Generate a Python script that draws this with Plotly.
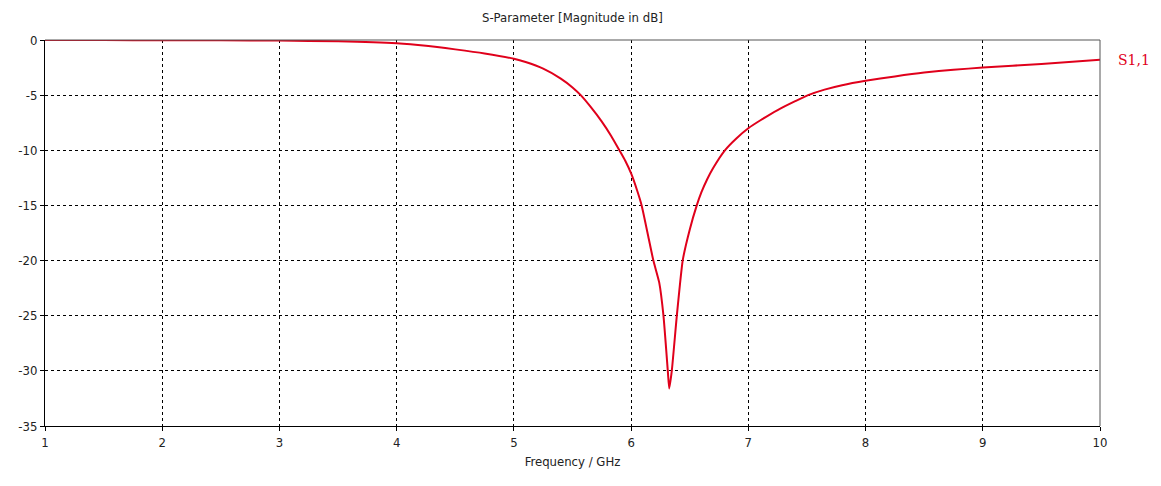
import plotly.graph_objects as go

# S1,1 magnitude of the port reflection, read per frequency point
freq_ghz = [1.0, 1.5, 2.0, 2.5, 3.0, 3.5, 4.0, 4.25, 4.5, 4.75, 5.0, 5.1, 5.25,
            5.4, 5.5, 5.57, 5.65, 5.75, 5.83, 5.9, 5.95, 6.0, 6.05, 6.09, 6.15,
            6.19, 6.24, 6.276, 6.313, 6.325, 6.347, 6.39, 6.44, 6.5, 6.56, 6.6,
            6.65, 6.7, 6.8, 6.9, 7.0, 7.1, 7.25, 7.4, 7.51, 7.65, 7.8, 8.0, 8.25,
            8.5, 8.75, 9.0, 9.5, 10.0]
s11_db = [0.0, -0.01, -0.02, -0.03, -0.05, -0.12, -0.3, -0.52, -0.85, -1.22, -1.7,
          -2.0, -2.6, -3.5, -4.3, -5.0, -6.0, -7.4, -8.7, -10.0, -10.95, -12.1,
          -13.6, -15.0, -18.0, -20.0, -22.0, -25.0, -30.0, -31.6, -30.0, -25.0,
          -20.0, -17.2, -15.0, -13.8, -12.6, -11.6, -10.0, -8.9, -8.0, -7.3,
          -6.35, -5.55, -5.0, -4.5, -4.1, -3.7, -3.3, -2.95, -2.7, -2.5, -2.17,
          -1.8]

x_ticks = [1, 2, 3, 4, 5, 6, 7, 8, 9, 10]
y_ticks = [0, -5, -10, -15, -20, -25, -30, -35]

trace_color = "#e0001b"
font_family = "DejaVu Sans Condensed, DejaVu Sans, sans-serif"

fig = go.Figure()
fig.add_trace(go.Scatter(
    x=freq_ghz, y=s11_db, mode="lines",
    line=dict(color=trace_color, width=2, shape="spline", smoothing=0.5),
    showlegend=False, hoverinfo="x+y",
))

fig.add_annotation(
    x=freq_ghz[-1], y=s11_db[-1], xref="x", yref="y",
    text="S1,1", showarrow=False, xanchor="left", yanchor="middle",
    xshift=16, font=dict(color=trace_color, size=14, family="DejaVu Serif, serif"),
)

axis_common = dict(
    showgrid=True, gridcolor="#000000", gridwidth=1, griddash="3px,3px",
    zeroline=False, showline=True, linecolor="#000000", linewidth=1,
    ticks="outside", ticklen=4, tickcolor="#000000",
    tickfont=dict(size=13, color="#222222", family=font_family),
)

fig.update_xaxes(
    range=[1, 10], tickvals=x_ticks, ticktext=[str(v) for v in x_ticks],
    title=dict(text="Frequency / GHz", font=dict(size=13, color="#222222", family=font_family), standoff=8),
    **axis_common,
)
fig.update_yaxes(
    range=[-35, 0], tickvals=y_ticks, ticktext=[str(v) for v in y_ticks],
    **axis_common,
)

# gray frame on the top and right sides of the plot area
fig.add_shape(type="line", xref="paper", yref="paper", x0=0, x1=1, y0=1, y1=1,
              line=dict(color="#555555", width=1))
fig.add_shape(type="line", xref="paper", yref="paper", x0=1, x1=1, y0=0, y1=1,
              line=dict(color="#555555", width=1))

fig.update_layout(
    width=1161, height=486,
    margin=dict(l=45, r=61, t=40, b=60),
    paper_bgcolor="#ffffff", plot_bgcolor="#ffffff",
    title=dict(text="S-Parameter [Magnitude in dB]", x=0.493, xanchor="center",
               y=0.965, yanchor="middle",
               font=dict(size=13, color="#222222", family=font_family)),
    font=dict(family=font_family),
)

fig.write_html("out.html")
